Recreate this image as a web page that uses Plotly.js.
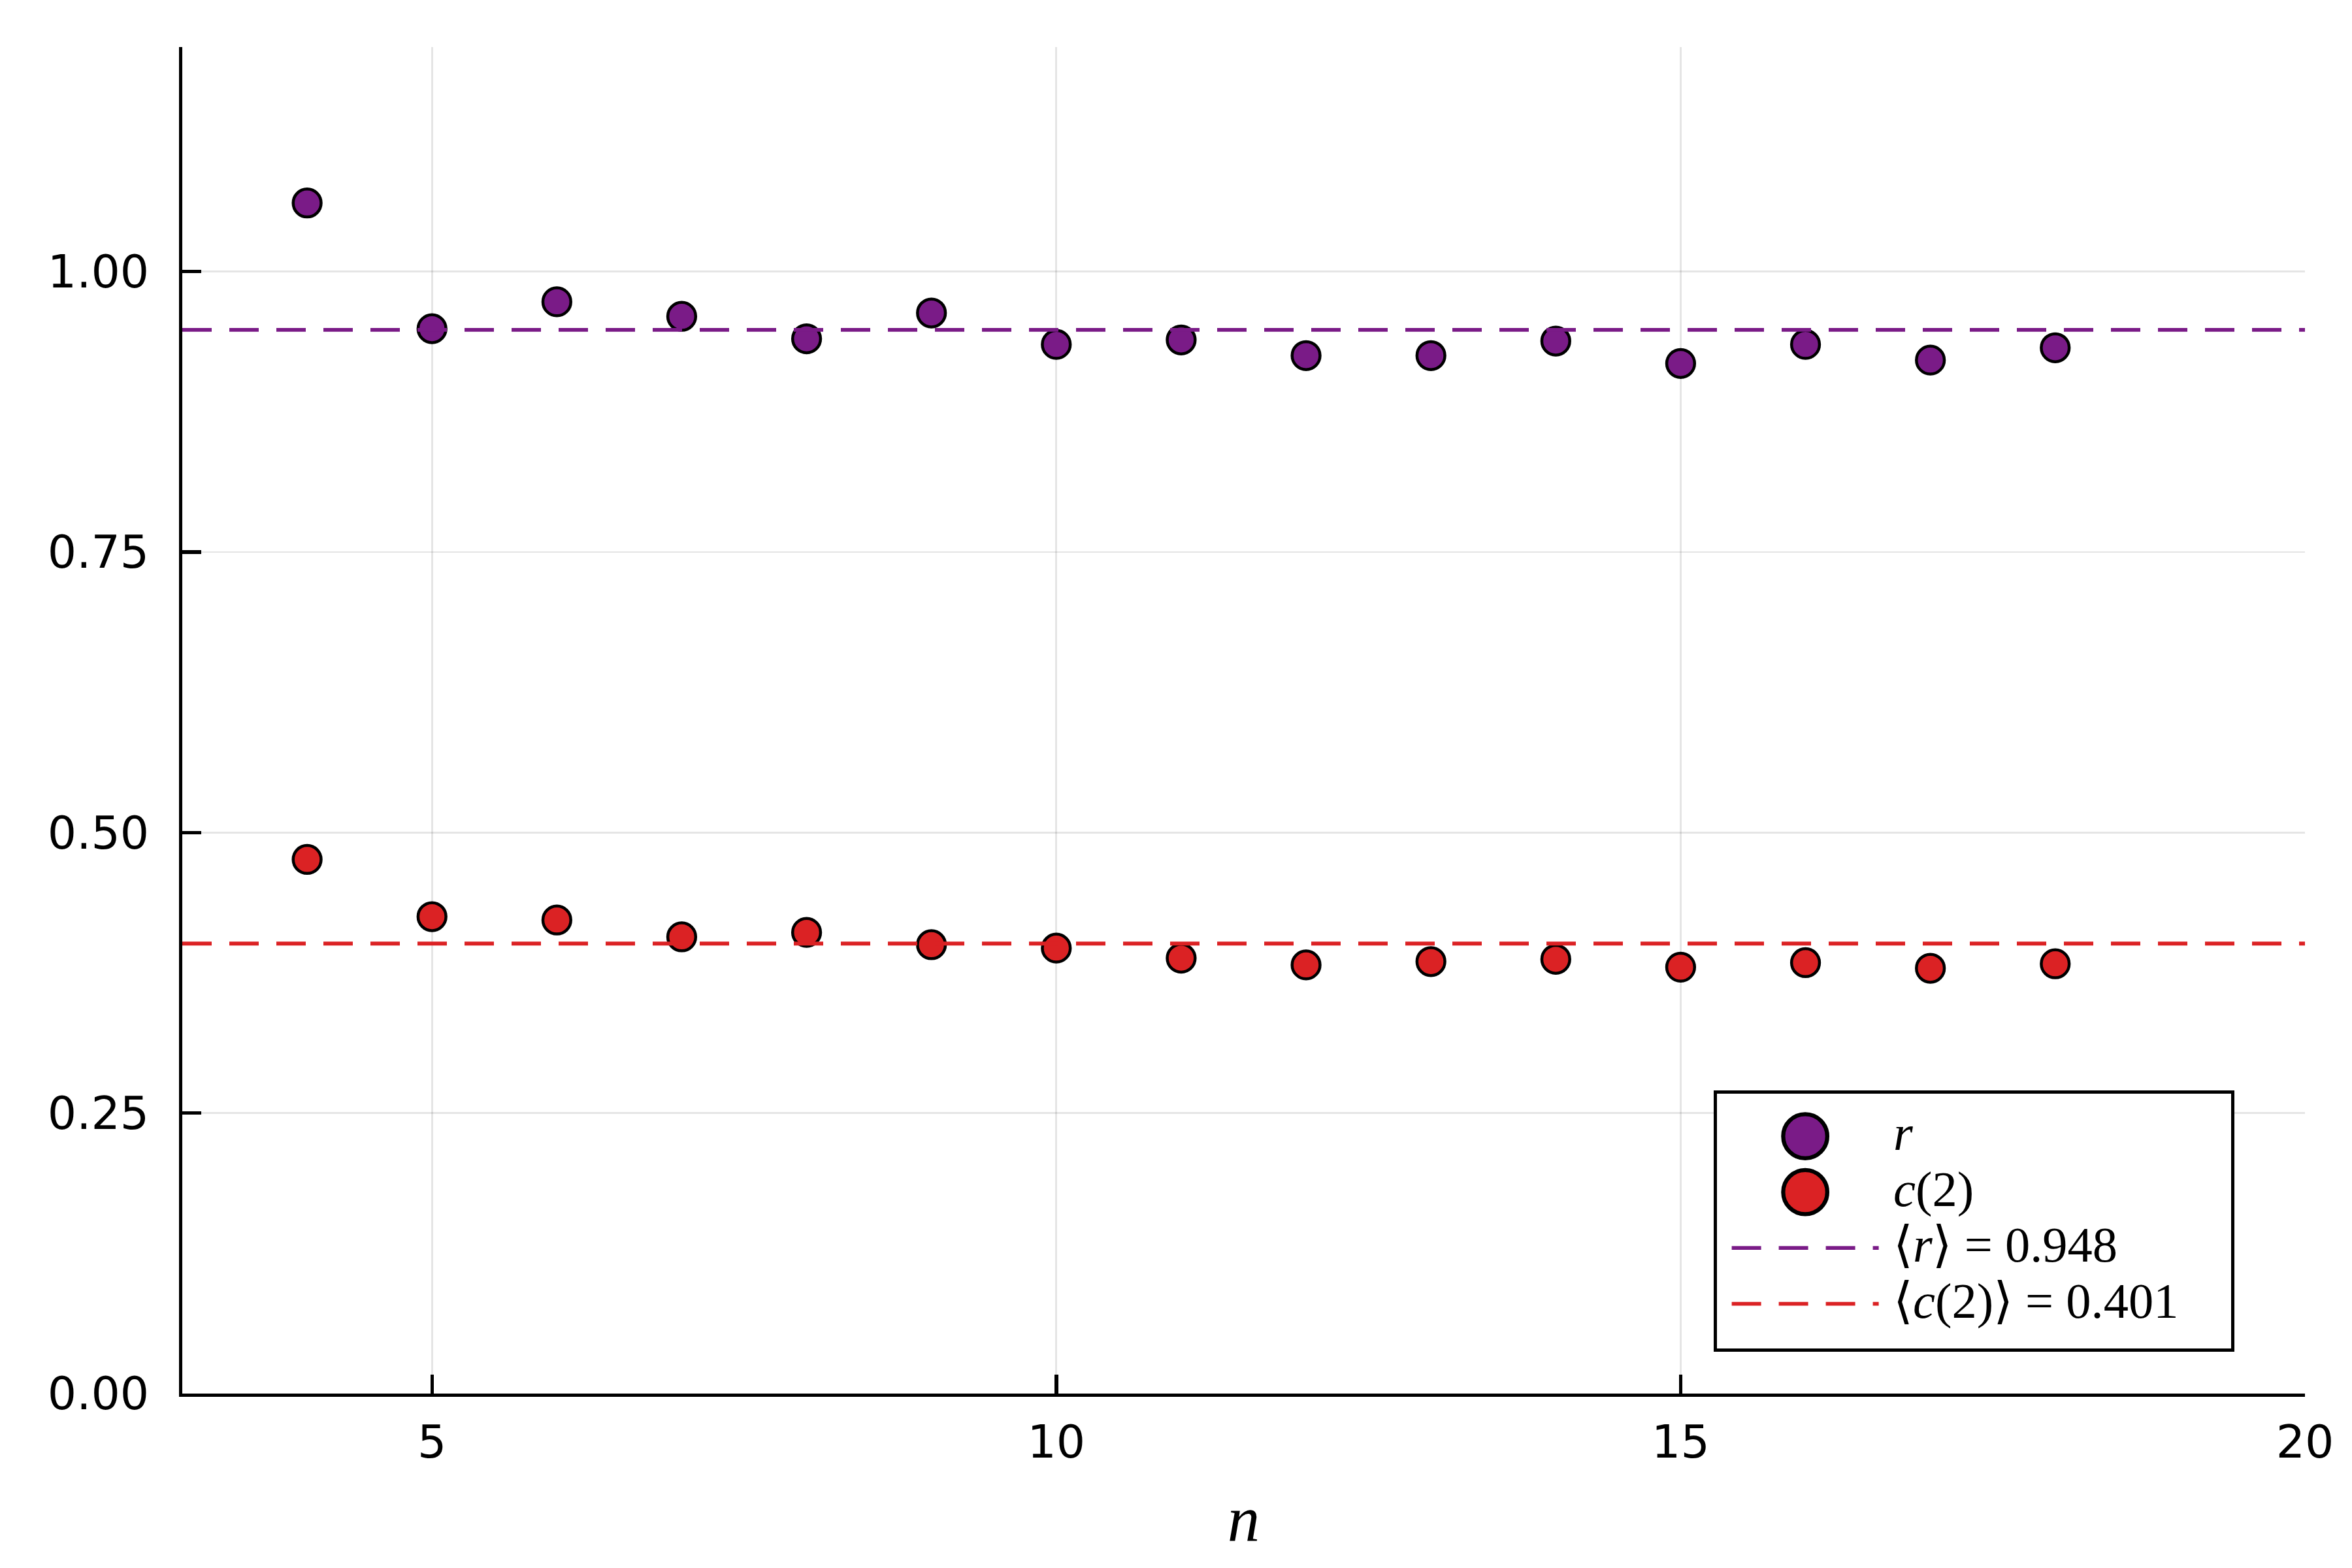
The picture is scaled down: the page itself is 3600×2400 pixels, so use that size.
<!DOCTYPE html>
<html>
<head>
<meta charset="utf-8">
<script src="https://cdn.plot.ly/plotly-3.0.1.min.js"></script>
<style>
  html, body { margin: 0; padding: 0; background: #fff; overflow: hidden; }
  /* drawn at 800x533 and zoomed x4.5 so the legend markers can be as big as the reference's */
  #wrap { width: 800px; height: 534px; zoom: 4.5; }
</style>
</head>
<body>
<div id="wrap"><div id="chart"></div></div>
<script>
// values
const n = [4, 5, 6, 7, 8, 9, 10, 11, 12, 13, 14, 15, 16, 17, 18]
const r = [1.061, 0.949, 0.973, 0.960, 0.940, 0.963, 0.935, 0.939, 0.925, 0.925, 0.938, 0.918, 0.935, 0.921, 0.932]
const c2 = [0.476, 0.425, 0.422, 0.407, 0.411, 0.400, 0.397, 0.388, 0.382, 0.385, 0.387, 0.380, 0.384, 0.379, 0.383]
const rMean = 0.948
const c2Mean = 0.401
const xRange = [3, 20]
const yRange = [0, 1.2]

const purple = "#7a1b87"
const red = "#db2224"
const tickFont = { family: "'DejaVu Sans', sans-serif", size: 15.5, color: "#000" }
const mathFont = "'Liberation Serif', 'DejaVu Serif', serif"

// legend rows are spaced by legend.font.size, so the text itself is enlarged inline
const big = (text) => `<span style="font-size:17px">${text}</span>`

function points(y, color) {
  return {
    x: n, y: y, type: "scatter", mode: "markers", showlegend: false,
    marker: { size: 9.5, color: color, line: { color: "#000", width: 1 } },
    hoverinfo: "x+y"
  }
}

// legend-only entries: Plotly caps legend markers at the trace's own size
function legendMarker(name, color) {
  return {
    x: [null], y: [null], type: "scatter", mode: "markers", name: big(name),
    marker: { size: 15, color: color, line: { color: "#000", width: 1.4 } }
  }
}

function meanLine(value, name, color) {
  return {
    x: xRange, y: [value, value], type: "scatter", mode: "lines", name: big(name),
    line: { color: color, width: 1.3, dash: "10px,6px" }, hoverinfo: "y"
  }
}

// ticklabelstandoff only takes integers
const axisBase = {
  ticks: "inside", ticklen: 6.4, tickwidth: 1.2, tickcolor: "#000",
  showline: true, linewidth: 1.2, linecolor: "#000",
  showgrid: true, gridcolor: "rgba(0,0,0,0.1)", gridwidth: 0.6,
  zeroline: false, tickfont: tickFont, automargin: false
}

const traces = [
  legendMarker("<i>r</i>", purple),
  legendMarker("<i>c</i>(2)", red),
  points(r, purple),
  points(c2, red),
  meanLine(rMean, "⟨<i>r</i>⟩ = " + rMean.toFixed(3), purple),
  meanLine(c2Mean, "⟨<i>c</i>(2)⟩ = " + c2Mean.toFixed(3) + "&nbsp;&nbsp;&nbsp;", red)
]

const layout = {
  width: 800, height: 533.333,
  margin: { l: 62.2, r: 15.8, t: 15.6, b: 59.1, pad: 0 },
  paper_bgcolor: "#fff", plot_bgcolor: "#fff",
  showlegend: true,
  xaxis: {
    ...axisBase, range: xRange, tick0: 0, dtick: 5, ticklabelstandoff: 2,
    title: { text: "<i>n</i>", font: { family: mathFont, size: 22, color: "#000" }, standoff: 9.4 }
  },
  yaxis: { ...axisBase, range: yRange, tick0: 0, dtick: 0.25, tickformat: ".2f", ticklabelstandoff: 7 },
  legend: {
    x: 0.7215, y: 0.128, xanchor: "left", yanchor: "middle",
    bgcolor: "#fff", bordercolor: "#000", borderwidth: 1.1,
    font: { family: mathFont, size: 12, color: "#000" },
    itemwidth: 50, tracegroupgap: 0
  }
}

Plotly.newPlot("chart", traces, layout, { displayModeBar: false, staticPlot: true })
</script>
</body>
</html>
